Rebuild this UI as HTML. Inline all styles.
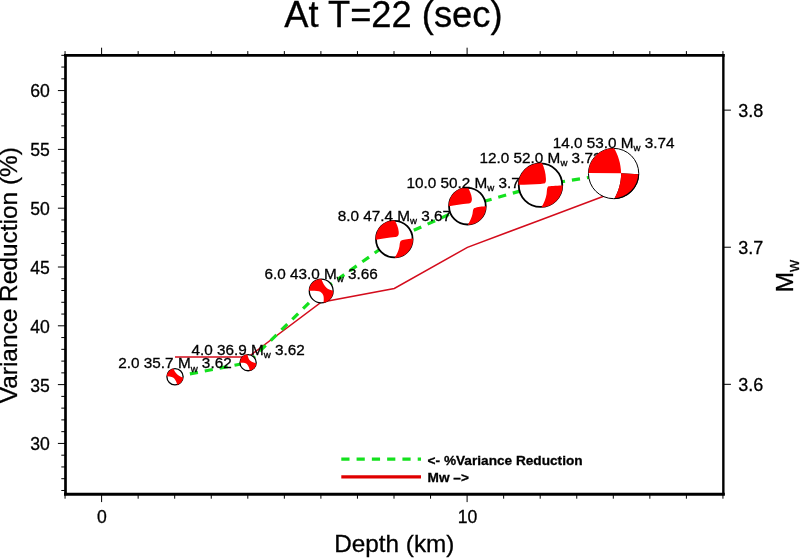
<!DOCTYPE html>
<html lang="en"><head><meta charset="utf-8"><title>At T=22 (sec)</title>
<style>html,body{margin:0;padding:0;background:#fff;}body{width:800px;height:558px;overflow:hidden;}svg{display:block;}text{font-family:'Liberation Sans', Arial, Helvetica, sans-serif;fill:#000;stroke:#000;stroke-width:0.3px;}</style>
</head><body>
<svg width="800" height="558" viewBox="0 0 800 558">
<rect x="0" y="0" width="800" height="558" fill="#fff"/>
<text x="393.4" y="26.8" font-size="36.3" text-anchor="middle">At T=22 (sec)</text>
<polyline points="175.00,357.06 248.10,357.06 321.20,302.22 394.30,288.51 467.40,247.38 540.50,219.96 613.60,192.54" fill="none" stroke="#d40c1c" stroke-width="1.5" stroke-linejoin="miter"/>
<polyline points="175.00,376.79 248.10,362.67 321.20,290.98 394.30,239.13 467.40,206.15 540.50,185.18 613.60,173.51" fill="none" stroke="#14e11e" stroke-width="3.2" stroke-dasharray="8.2 6.95" stroke-linejoin="miter"/>
<defs>
<clipPath id="c0"><circle cx="0" cy="0" r="1.0247"/></clipPath>
<clipPath id="c1"><circle cx="0" cy="0" r="1.0247"/></clipPath>
<clipPath id="c2"><circle cx="0" cy="0" r="1.0168"/></clipPath>
<clipPath id="c3"><circle cx="0" cy="0" r="1.0246"/></clipPath>
<clipPath id="c4"><circle cx="0" cy="0" r="1.0245"/></clipPath>
<clipPath id="c5"><circle cx="0" cy="0" r="1.0207"/></clipPath>
<clipPath id="c6"><circle cx="0" cy="0" r="1.0020"/></clipPath>
<clipPath id="c7o"><circle cx="0" cy="0" r="1.0199"/></clipPath>
<clipPath id="c7s"><circle cx="-0.0179" cy="-0.0179" r="0.9980"/></clipPath>
</defs>
<g transform="translate(175.00 376.79)">
<circle cx="0" cy="0" r="8.10" fill="#fff" stroke="#000" stroke-width="1.30"/>
<g transform="scale(8.10)" clip-path="url(#c0)">
<path d="M -1.05 -0.08 L -1.05 -1.05 L -0.18 -1.05 L -0.18 -0.97 C -0.05 -0.7 0.05 -0.55 0.2 -0.39 C 0.35 -0.24 0.58 -0.06 1.0 0.12 L 1.05 0.12 L 1.05 1.05 L 0.27 1.05 L 0.27 0.96 C 0.22 0.8 0.2 0.7 0.14 0.58 C 0.06 0.42 -0.02 0.29 -0.12 0.19 C -0.25 0.04 -0.5 -0.08 -1.0 -0.08 Z" fill="#ff0000"/>
</g></g>
<text x="175.00" y="368.49" font-size="15.3" text-anchor="middle">2.0 35.7 M<tspan dy="3.1" font-size="9.7">w</tspan><tspan dy="-3.1"> 3.62</tspan></text>
<g transform="translate(248.10 362.67)">
<circle cx="0" cy="0" r="8.10" fill="#fff" stroke="#000" stroke-width="1.30"/>
<g transform="scale(8.10)" clip-path="url(#c1)">
<path d="M -1.05 0.0 L -1.05 -1.05 L -0.09 -1.05 L -0.09 -0.97 C 0.0 -0.7 0.05 -0.5 0.15 -0.36 C 0.3 -0.18 0.55 -0.02 1.0 0.07 L 1.05 0.07 L 1.05 1.05 L 0.2 1.05 L 0.2 0.97 C 0.17 0.8 0.14 0.68 0.09 0.57 C 0.02 0.4 -0.05 0.27 -0.15 0.17 C -0.3 0.02 -0.5 -0.02 -1.0 0.0 Z" fill="#ff0000"/>
</g></g>
<text x="248.10" y="354.67" font-size="15.3" text-anchor="middle">4.0 36.9 M<tspan dy="3.1" font-size="9.7">w</tspan><tspan dy="-3.1"> 3.62</tspan></text>
<g transform="translate(321.20 290.98)">
<circle cx="0" cy="0" r="11.90" fill="#fff" stroke="#000" stroke-width="1.30"/>
<g transform="scale(11.90)" clip-path="url(#c2)">
<path d="M -1.05 -0.02 L -1.05 -1.05 L 0.02 -1.05 L 0.02 -0.98 C 0.12 -0.75 0.2 -0.58 0.3 -0.43 C 0.42 -0.25 0.6 -0.08 1.0 -0.02 L 1.05 -0.02 L 1.05 1.05 L 0.2 1.05 L 0.2 0.95 C 0.22 0.7 0.23 0.5 0.17 0.36 C 0.1 0.2 -0.02 0.08 -0.2 0.03 C -0.4 -0.02 -0.7 -0.02 -1.0 -0.02 Z" fill="#ff0000"/>
</g></g>
<text x="321.20" y="278.88" font-size="15.3" text-anchor="middle">6.0 43.0 M<tspan dy="3.1" font-size="9.7">w</tspan><tspan dy="-3.1"> 3.66</tspan></text>
<g transform="translate(394.30 239.13)">
<circle cx="0" cy="0" r="18.30" fill="#fff" stroke="#000" stroke-width="1.80"/>
<g transform="scale(18.30)" clip-path="url(#c3)">
<path d="M -1.05 0.04 L -1.05 -1.05 L 0.03 -1.05 L 0.03 -1.0 C 0.13 -0.85 0.22 -0.62 0.24 -0.42 C 0.25 -0.3 0.24 -0.24 0.21 -0.2 C 0.17 -0.14 0.12 -0.13 0.05 -0.11 C -0.3 -0.07 -0.7 -0.03 -1.0 0.04 Z" fill="#ff0000"/>
<path d="M 1.05 -0.03 L 1.05 1.05 L 0.03 1.05 L 0.03 1.0 C 0.14 0.85 0.24 0.6 0.28 0.4 C 0.3 0.25 0.3 0.15 0.36 0.09 C 0.45 0.04 0.7 0.0 1.0 -0.03 Z" fill="#ff0000"/>
</g></g>
<text x="394.30" y="220.63" font-size="15.3" text-anchor="middle">8.0 47.4 M<tspan dy="3.1" font-size="9.7">w</tspan><tspan dy="-3.1"> 3.67</tspan></text>
<g transform="translate(467.40 206.15)">
<circle cx="0" cy="0" r="18.35" fill="#fff" stroke="#000" stroke-width="1.80"/>
<g transform="scale(18.35)" clip-path="url(#c4)">
<path d="M -1.05 0.01 L -1.05 -1.05 L 0.03 -1.05 L 0.03 -1.0 C 0.13 -0.85 0.22 -0.62 0.24 -0.45 C 0.25 -0.33 0.24 -0.27 0.21 -0.23 C 0.17 -0.17 0.12 -0.16 0.05 -0.14 C -0.3 -0.1 -0.7 -0.06 -1.0 0.01 Z" fill="#ff0000"/>
<path d="M 1.05 0.0 L 1.05 1.05 L 0.03 1.05 L 0.03 1.0 C 0.14 0.85 0.24 0.6 0.28 0.42 C 0.3 0.28 0.3 0.19 0.36 0.12 C 0.45 0.06 0.7 0.02 1.0 0.0 Z" fill="#ff0000"/>
</g></g>
<text x="467.40" y="187.60" font-size="15.3" text-anchor="middle">10.0 50.2 M<tspan dy="3.1" font-size="9.7">w</tspan><tspan dy="-3.1"> 3.70</tspan></text>
<g transform="translate(540.50 185.18)">
<circle cx="0" cy="0" r="21.75" fill="#fff" stroke="#000" stroke-width="1.80"/>
<g transform="scale(21.75)" clip-path="url(#c5)">
<path d="M -1.05 -0.02 L -1.05 -1.05 L 0.08 -1.05 L 0.08 -1.0 C 0.17 -0.82 0.24 -0.55 0.25 -0.3 C 0.25 -0.2 0.25 -0.14 0.21 -0.1 C 0.17 -0.07 0.1 -0.07 0.0 -0.06 C -0.3 -0.05 -0.7 -0.03 -1.0 -0.02 Z" fill="#ff0000"/>
<path d="M 1.05 0.02 L 1.05 1.05 L 0.05 1.05 L 0.05 1.0 C 0.16 0.82 0.25 0.6 0.28 0.4 C 0.3 0.25 0.29 0.13 0.34 0.07 C 0.42 0.04 0.7 0.03 1.0 0.02 Z" fill="#ff0000"/>
</g></g>
<text x="540.50" y="163.23" font-size="15.3" text-anchor="middle">12.0 52.0 M<tspan dy="3.1" font-size="9.7">w</tspan><tspan dy="-3.1"> 3.72</tspan></text>
<g transform="translate(613.60 173.51)">
<circle cx="0" cy="0" r="25.15" fill="#fff" stroke="#000" stroke-width="1.00"/>
<g transform="scale(25.15)" clip-path="url(#c6)">
<path d="M -1.05 -0.025 L -1.05 -1.05 L 0.02 -1.05 L 0.02 -1.0 C 0.17 -0.75 0.29 -0.4 0.30 -0.01 L -1.0 -0.025 Z" fill="#ff0000"/>
</g><g transform="scale(25.15)" clip-path="url(#c7o)"><path d="M 1.05 0.03 L 1.05 1.05 L 0.03 1.05 L 0.03 1.0 C 0.2 0.7 0.30 0.35 0.30 -0.01 L 1.0 0.03 Z" fill="#000"/></g><g transform="scale(25.15)" clip-path="url(#c7s)">
<path d="M 1.05 0.03 L 1.05 1.05 L 0.03 1.05 L 0.03 1.0 C 0.2 0.7 0.30 0.35 0.30 -0.01 L 1.0 0.03 Z" fill="#ff0000"/>
</g></g>
<text x="613.60" y="148.16" font-size="15.3" text-anchor="middle">14.0 53.0 M<tspan dy="3.1" font-size="9.7">w</tspan><tspan dy="-3.1"> 3.74</tspan></text>
<g stroke="#000" stroke-linecap="square" fill="none">
<line x1="65.50" y1="55.42" x2="723.35" y2="55.42" stroke-width="2.7"/>
<line x1="65.50" y1="494.25" x2="723.35" y2="494.25" stroke-width="2.9"/>
<line x1="65.50" y1="55.30" x2="65.50" y2="494.00" stroke-width="2.7"/>
<line x1="723.35" y1="55.30" x2="723.35" y2="494.00" stroke-width="2.4"/>
</g>
<path d="M65.05 494.00v4.70M65.05 55.30v-4.20M101.60 494.00v8.10M101.60 55.30v-7.60M138.15 494.00v4.70M138.15 55.30v-4.20M174.70 494.00v4.70M174.70 55.30v-4.20M211.25 494.00v4.70M211.25 55.30v-4.20M247.80 494.00v4.70M247.80 55.30v-4.20M284.35 494.00v4.70M284.35 55.30v-4.20M320.90 494.00v4.70M320.90 55.30v-4.20M357.45 494.00v4.70M357.45 55.30v-4.20M394.00 494.00v4.70M394.00 55.30v-4.20M430.55 494.00v4.70M430.55 55.30v-4.20M467.10 494.00v8.10M467.10 55.30v-7.60M503.65 494.00v4.70M503.65 55.30v-4.20M540.20 494.00v4.70M540.20 55.30v-4.20M576.75 494.00v4.70M576.75 55.30v-4.20M613.30 494.00v4.70M613.30 55.30v-4.20M649.85 494.00v4.70M649.85 55.30v-4.20M686.40 494.00v4.70M686.40 55.30v-4.20M722.95 494.00v4.70M722.95 55.30v-4.20M65.50 490.47h-4.20M65.50 478.71h-4.20M65.50 466.95h-4.20M65.50 455.19h-4.20M65.50 443.43h-7.60M65.50 431.66h-4.20M65.50 419.90h-4.20M65.50 408.14h-4.20M65.50 396.38h-4.20M65.50 384.62h-7.60M65.50 372.86h-4.20M65.50 361.10h-4.20M65.50 349.33h-4.20M65.50 337.57h-4.20M65.50 325.81h-7.60M65.50 314.05h-4.20M65.50 302.29h-4.20M65.50 290.53h-4.20M65.50 278.77h-4.20M65.50 267.01h-7.60M65.50 255.24h-4.20M65.50 243.48h-4.20M65.50 231.72h-4.20M65.50 219.96h-4.20M65.50 208.20h-7.60M65.50 196.44h-4.20M65.50 184.68h-4.20M65.50 172.91h-4.20M65.50 161.15h-4.20M65.50 149.39h-7.60M65.50 137.63h-4.20M65.50 125.87h-4.20M65.50 114.11h-4.20M65.50 102.35h-4.20M65.50 90.58h-7.60M65.50 78.82h-4.20M65.50 67.06h-4.20M65.50 55.30h-4.20M723.35 384.32h7.60M723.35 247.23h7.60M723.35 110.14h7.60" fill="none" stroke="#000" stroke-width="1.0"/>
<text x="101.95" y="523.3" font-size="17.6" text-anchor="middle">0</text>
<text x="467.45" y="523.3" font-size="17.6" text-anchor="middle">10</text>
<text x="49.8" y="450.33" font-size="17.6" text-anchor="end">30</text>
<text x="49.8" y="391.52" font-size="17.6" text-anchor="end">35</text>
<text x="49.8" y="332.71" font-size="17.6" text-anchor="end">40</text>
<text x="49.8" y="273.91" font-size="17.6" text-anchor="end">45</text>
<text x="49.8" y="215.10" font-size="17.6" text-anchor="end">50</text>
<text x="49.8" y="156.29" font-size="17.6" text-anchor="end">55</text>
<text x="49.8" y="97.48" font-size="17.6" text-anchor="end">60</text>
<text x="738.2" y="391.02" font-size="18.0" text-anchor="start">3.6</text>
<text x="738.2" y="253.93" font-size="18.0" text-anchor="start">3.7</text>
<text x="738.2" y="116.84" font-size="18.0" text-anchor="start">3.8</text>
<text x="394.3" y="552" font-size="24.3" text-anchor="middle">Depth (km)</text>
<text transform="translate(17.4 275.2) rotate(-90)" font-size="24.45" text-anchor="middle">Variance Reduction (%)</text>
<text transform="translate(793.1 276.0) rotate(-90)" font-size="24.3" text-anchor="middle">M<tspan dy="6" font-size="16.8">w</tspan></text>
<line x1="341.3" y1="459.1" x2="421" y2="459.1" stroke="#14e11e" stroke-width="3.1" stroke-dasharray="8.2 7.08"/>
<line x1="341.3" y1="476.9" x2="421" y2="476.9" stroke="#e00000" stroke-width="3.1"/>
<text x="427.6" y="465.0" font-size="13.65" font-weight="bold" stroke-width="0.15">&lt;- %Variance Reduction</text>
<text x="427.6" y="481.5" font-size="13.65" font-weight="bold" stroke-width="0.15">Mw –&gt;</text>
</svg>
</body></html>
